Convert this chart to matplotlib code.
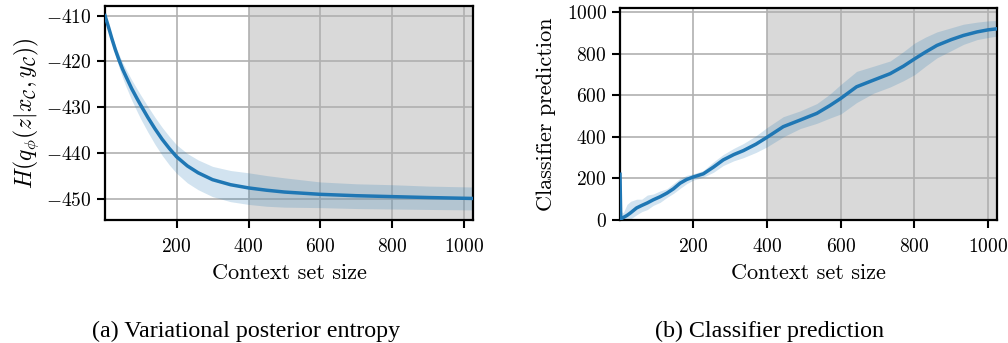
import numpy as np
import matplotlib
matplotlib.use("Agg")
import matplotlib.pyplot as plt

plt.rcParams['font.family'] = 'cmr10'
plt.rcParams['mathtext.fontset'] = 'cm'
plt.rcParams['axes.formatter.use_mathtext'] = True
plt.rcParams['axes.unicode_minus'] = True

# (a) entropy of the variational posterior
ent_x = [1, 10, 20, 30, 40, 50, 60, 75, 90, 100, 120, 140, 160, 180, 200, 230, 260,
         300, 350, 400, 450, 500, 600, 700, 800, 900, 1024]
ent_mean = [-410.0, -412.3, -415.0, -417.5, -419.7, -421.7, -423.4, -425.9, -428.1,
            -429.5, -432.2, -434.7, -437.0, -439.0, -440.8, -442.8, -444.3, -445.8,
            -446.9, -447.6, -448.1, -448.5, -449.0, -449.3, -449.5, -449.7, -449.9]
ent_hi = [-410.0, -412.0, -414.4, -416.6, -418.5, -420.3, -421.8, -424.0, -426.0,
          -427.3, -429.8, -432.2, -434.4, -436.4, -438.2, -440.1, -441.5, -442.9,
          -443.8, -444.3, -444.9, -445.4, -446.3, -446.7, -446.9, -447.2, -447.4]
ent_lo = [-410.0, -412.7, -415.8, -418.7, -421.3, -423.6, -425.6, -428.4, -430.9,
          -432.5, -435.4, -438.1, -440.5, -442.6, -444.4, -446.5, -448.0, -449.5,
          -450.6, -451.2, -451.6, -451.8, -451.9, -452.1, -452.2, -452.3, -452.4]

# (b) classifier prediction
cls_x = [1, 3, 6, 10, 20, 30, 46, 60, 75, 91, 110, 128, 146, 164, 182, 200, 227, 255,
         281, 310, 336, 370, 400, 444, 490, 535, 570, 600, 643, 689, 734, 770, 801,
         830, 861, 900, 933, 970, 1000, 1024]
cls_mean = [220, 5, 8, 12, 22, 35, 58, 70, 82, 97, 112, 129, 150, 177, 195, 207, 222,
            255, 289, 315, 334, 365, 398, 449, 481, 513, 550, 585, 641, 673, 704, 740,
            776, 808, 840, 868, 888, 905, 915, 920]
cls_hi = [220, 15, 40, 35, 75, 90, 100, 100, 120, 125, 140, 150, 175, 200, 215, 222,
          238, 280, 315, 345, 368, 405, 445, 497, 525, 560, 605, 652, 715, 740, 765,
          810, 852, 880, 905, 925, 942, 952, 958, 960]
cls_lo = [220, 0, 0, 0, 0, 5, 25, 40, 50, 70, 85, 108, 128, 152, 175, 192, 206, 230,
          262, 285, 300, 325, 352, 400, 440, 465, 490, 510, 565, 610, 640, 670, 700,
          740, 780, 815, 845, 868, 878, 885]

xticks = [200, 400, 600, 800, 1000]
shade_start = 400

blue = '#1f77b4'

fig = plt.figure(figsize=(10.08, 3.43), dpi=100)
ax1 = fig.add_axes([105 / 1008, 123 / 343, 368 / 1008, 214 / 343])
ax2 = fig.add_axes([620 / 1008, 123 / 343, 377 / 1008, 212 / 343])

for ax, x, m, lo, hi in [(ax1, ent_x, ent_mean, ent_lo, ent_hi),
                         (ax2, cls_x, cls_mean, cls_lo, cls_hi)]:
    ax.set_axisbelow(True)
    ax.axvspan(shade_start, 1024, color='#d9d9d9', zorder=0, lw=0)
    ax.fill_between(x, lo, hi, color=blue, alpha=0.2, lw=0, zorder=2)
    ax.plot(x, m, color=blue, lw=2.5, zorder=3)
    ax.grid(True, color='#b0b0b0', lw=1.2)
    ax.set_xlim(1, 1024)
    ax.set_xticks(xticks)
    ax.set_xlabel('Context set size', fontsize=16, labelpad=5)
    ax.tick_params(labelsize=14, width=1.5, length=6)
    ax.tick_params(axis='x', pad=7)
    for s in ax.spines.values():
        s.set_linewidth(1.6)

ax1.set_ylim(-454.6, -407.9)
ax1.set_yticks([-450, -440, -430, -420, -410])
ax1.set_ylabel(r'$H(q_\phi(z|x_\mathcal{C}, y_\mathcal{C}))$', fontsize=17, labelpad=4)

ax2.set_ylim(0, 1020)
ax2.set_yticks([0, 200, 400, 600, 800, 1000])
ax2.set_ylabel('Classifier prediction', fontsize=16, labelpad=8)

fig.text(246 / 1008, 1 - 337 / 343, '(a) Variational posterior entropy',
         family='Liberation Serif', fontsize=17.3, ha='center', va='baseline')
fig.text(770 / 1008, 1 - 337 / 343, '(b) Classifier prediction',
         family='Liberation Serif', fontsize=17.3, ha='center', va='baseline')

fig.savefig('out.png', dpi=100)
